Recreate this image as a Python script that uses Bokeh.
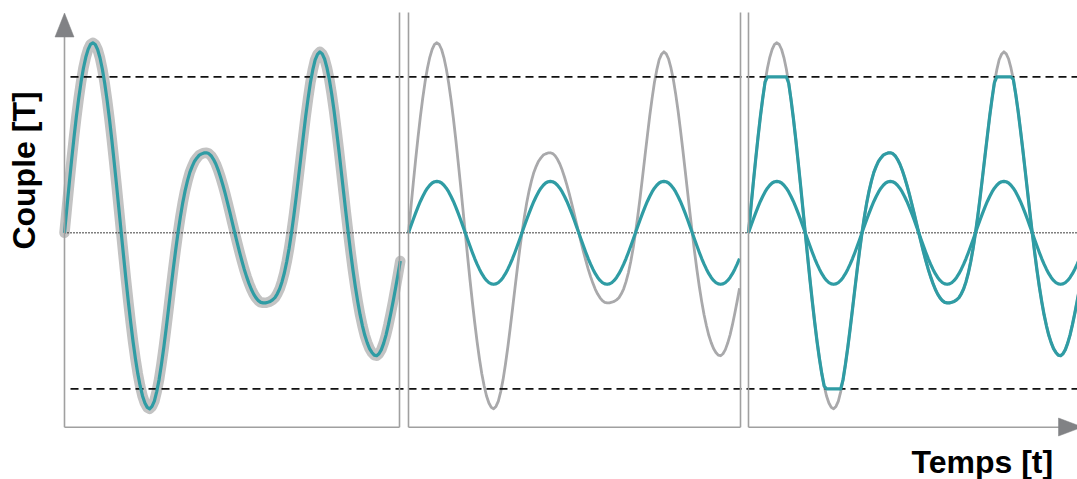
import numpy as np
from bokeh.plotting import figure
from bokeh.models import Range1d, Label
from bokeh.embed import file_html
from bokeh.resources import INLINE

# ---------------- data ----------------
# time samples: phase of the fundamental, in degrees (7.5 deg steps, 0 .. 1065)
t = [7.5 * i for i in range(143)]

# measured torque signal (units: limit = 1)
signal = [
    0.000, 0.159, 0.315, 0.466, 0.609, 0.742, 0.861, 0.966, 1.055, 1.125, 1.176, 1.208,
    1.218, 1.207, 1.175, 1.122, 1.050, 0.959, 0.852, 0.731, 0.598, 0.455, 0.307, 0.154,
    0.000, -0.152, -0.301, -0.442, -0.575, -0.698, -0.807, -0.903, -0.982, -1.046, -1.091, -1.119,
    -1.128, -1.113, -1.079, -1.018, -0.941, -0.843, -0.734, -0.613, -0.487, -0.358, -0.232, -0.112,
    0.000, 0.102, 0.192, 0.269, 0.333, 0.387, 0.426, 0.459, 0.480, 0.498, 0.506, 0.512,
    0.513, 0.508, 0.494, 0.471, 0.441, 0.402, 0.356, 0.305, 0.249, 0.189, 0.127, 0.063,
    0.000, -0.062, -0.122, -0.179, -0.233, -0.281, -0.324, -0.362, -0.393, -0.417, -0.435, -0.446,
    -0.449, -0.449, -0.445, -0.440, -0.430, -0.416, -0.391, -0.359, -0.313, -0.256, -0.184, -0.099,
    0.000, 0.111, 0.232, 0.360, 0.491, 0.620, 0.747, 0.860, 0.963, 1.044, 1.109, 1.144,
    1.160, 1.147, 1.114, 1.057, 0.983, 0.889, 0.782, 0.661, 0.534, 0.400, 0.265, 0.130,
    0.000, -0.124, -0.240, -0.346, -0.441, -0.525, -0.596, -0.657, -0.704, -0.742, -0.767, -0.784,
    -0.788, -0.775, -0.749, -0.707, -0.654, -0.589, -0.516, -0.438, -0.355, -0.270, -0.181,
]

# equivalent sinusoidal torque
sine = [
    0.000, 0.043, 0.085, 0.126, 0.165, 0.201, 0.233, 0.262, 0.286, 0.305, 0.319, 0.327,
    0.330, 0.327, 0.319, 0.305, 0.286, 0.262, 0.233, 0.201, 0.165, 0.126, 0.085, 0.043,
    0.000, -0.043, -0.085, -0.126, -0.165, -0.201, -0.233, -0.262, -0.286, -0.305, -0.319, -0.327,
    -0.330, -0.327, -0.319, -0.305, -0.286, -0.262, -0.233, -0.201, -0.165, -0.126, -0.085, -0.043,
    0.000, 0.043, 0.085, 0.126, 0.165, 0.201, 0.233, 0.262, 0.286, 0.305, 0.319, 0.327,
    0.330, 0.327, 0.319, 0.305, 0.286, 0.262, 0.233, 0.201, 0.165, 0.126, 0.085, 0.043,
    0.000, -0.043, -0.085, -0.126, -0.165, -0.201, -0.233, -0.262, -0.286, -0.305, -0.319, -0.327,
    -0.330, -0.327, -0.319, -0.305, -0.286, -0.262, -0.233, -0.201, -0.165, -0.126, -0.085, -0.043,
    0.000, 0.043, 0.085, 0.126, 0.165, 0.201, 0.233, 0.262, 0.286, 0.305, 0.319, 0.327,
    0.330, 0.327, 0.319, 0.305, 0.286, 0.262, 0.233, 0.201, 0.165, 0.126, 0.085, 0.043,
    0.000, -0.043, -0.085, -0.126, -0.165, -0.201, -0.233, -0.262, -0.286, -0.305, -0.319, -0.327,
    -0.330, -0.327, -0.319, -0.305, -0.286, -0.262, -0.233, -0.201, -0.165, -0.126, -0.085,
]

upper_limit = 1.0
lower_limit = -1.0
y_label = "Couple [T]"
x_label = "Temps [t]"

# ---------------- layout helpers ----------------
W, H = 1077, 479
ORIGIN = 0.0          # page position of the canvas corner
PXD = 113.5 / 360.0   # pixels per degree
PXU = 156.0           # pixels per torque unit
X_AX = 64.0           # page x of t = 0 (panel 1)
Y_MID = 232.3         # page y of torque 0


def xd(px):
    return (px - X_AX) / PXD


def yd(py):
    return (Y_MID - py) / PXU


p = figure(width=W, height=H,
           x_range=Range1d(xd(ORIGIN), xd(ORIGIN + W)),
           y_range=Range1d(yd(ORIGIN + H), yd(ORIGIN)),
           x_axis_type=None, y_axis_type=None,
           toolbar_location=None, output_backend="svg",
           min_border=0, outline_line_color=None,
           background_fill_color="white", border_fill_color="white")

TEAL = "#2f9ca4"
GRAY_THICK = "#c3c3c3"
GRAY_THIN = "#a9a9ab"
BORDER = "#a0a0a0"
ARROW = "#818285"

t_arr = np.array(t, dtype=float)
s_arr = np.array(signal)
sn_arr = np.array(sine)
clipped = np.clip(s_arr, lower_limit, upper_limit)

lefts = [64.0, 408.0, 748.0]
rights = [399.0, 740.0, 1100.0]
offs = [xd(px) for px in lefts]
lengths = [xd(r) - xd(l) + 1.0 for l, r in zip(lefts, rights)]

# ---- curves: gray layers first ----
m0 = t_arr <= lengths[0] + 5
p.line(t_arr[m0] + offs[0], s_arr[m0], line_color=GRAY_THICK, line_width=10.5,
       line_join="round", line_cap="round")
m1 = t_arr <= lengths[1]
p.line(t_arr[m1] + offs[1], s_arr[m1], line_color=GRAY_THIN, line_width=2.8, line_join="round")
p.line(t_arr + offs[2], s_arr, line_color=GRAY_THIN, line_width=2.8, line_join="round")

# ---- reference lines ----
p.segment(x0=[xd(70)], y0=[upper_limit], x1=[xd(1080)], y1=[upper_limit],
          line_color="#111111", line_width=1.7, line_dash="8 5")
p.segment(x0=[xd(70)], y0=[lower_limit], x1=[xd(1080)], y1=[lower_limit],
          line_color="#111111", line_width=1.7, line_dash="8 5")
p.segment(x0=[xd(64)], y0=[0.0], x1=[xd(1080)], y1=[0.0],
          line_color="#000000", line_width=1.6, line_dash="1 2")

# ---- teal layers ----
p.line(t_arr[m0] + offs[0], s_arr[m0], line_color=TEAL, line_width=3.2, line_join="round")
p.line(t_arr[m1] + offs[1], sn_arr[m1], line_color=TEAL, line_width=3.2, line_join="round")
p.line(t_arr + offs[2], sn_arr, line_color=TEAL, line_width=3.2, line_join="round")
p.line(t_arr + offs[2], clipped, line_color=TEAL, line_width=3.2, line_join="round")

# ---- panel frames ----
Y_TOP, Y_BOT = 12.0, 426.7
# y axis (panel 1 left)
p.segment(x0=[xd(64)], y0=[yd(Y_BOT)], x1=[xd(64)], y1=[yd(34)], line_color=BORDER, line_width=1.6)
# other vertical borders
vx = [399.0, 408.0, 740.0, 748.0]
p.segment(x0=[xd(v) for v in vx], y0=[yd(Y_BOT)] * 4, x1=[xd(v) for v in vx], y1=[yd(Y_TOP)] * 4,
          line_color=BORDER, line_width=1.6)
# bottoms
p.segment(x0=[xd(64), xd(408), xd(748)], y0=[yd(Y_BOT)] * 3,
          x1=[xd(399), xd(740), xd(1060)], y1=[yd(Y_BOT)] * 3,
          line_color=BORDER, line_width=1.6)
# arrow heads
p.patch(x=[xd(64), xd(73.5), xd(54.5)], y=[yd(12.5), yd(36.5), yd(36.5)],
        fill_color=ARROW, line_color=ARROW, line_width=0.5)
p.patch(x=[xd(1082), xd(1058), xd(1058)], y=[yd(426.5), yd(417.5), yd(435.5)],
        fill_color=ARROW, line_color=ARROW, line_width=0.5)

# ---- texts ----
p.add_layout(Label(x=xd(23.5), y=yd(170.0), text=y_label, angle=np.pi / 2,
                   text_align="center", text_baseline="alphabetic",
                   text_font="Liberation Sans", text_font_style="bold",
                   text_font_size="32px", text_color="#000000"))
p.add_layout(Label(x=xd(911.0), y=yd(461.5), text=x_label,
                   text_align="left", text_baseline="alphabetic",
                   text_font="Liberation Sans", text_font_style="bold",
                   text_font_size="32px", text_color="#000000"))

open("out.html", "w").write(file_html(p, INLINE))
